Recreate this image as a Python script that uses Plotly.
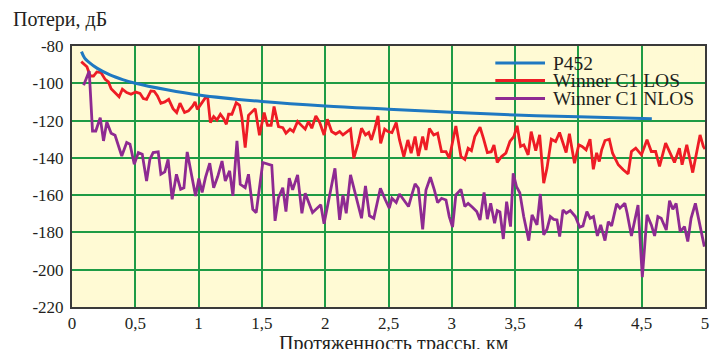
import plotly.graph_objects as go

# ---- data ----
p452_x = [0.075, 0.1, 0.13, 0.2, 0.3, 0.4, 0.5, 0.75, 1.0, 1.5, 2.0, 2.5, 3.0, 3.5, 4.0, 4.58]
p452_y = [-83, -86.5, -88.5, -92, -95.5, -98, -100, -103.5, -106.3, -109.8, -112.2, -113.9, -115.5, -117, -118, -119]

los_x = [0.073, 0.118, 0.144, 0.170, 0.196, 0.230, 0.262, 0.288, 0.309, 0.340, 0.372, 0.398, 0.432, 0.466,
         0.503, 0.537, 0.563, 0.589, 0.623, 0.649, 0.675, 0.702, 0.733, 0.764, 0.798, 0.827, 0.853, 0.889,
         0.920, 0.954, 0.972, 0.990, 1.020, 1.054, 1.072, 1.093, 1.119, 1.145, 1.172, 1.198, 1.219, 1.237,
         1.263, 1.297, 1.324, 1.342, 1.368, 1.394, 1.447, 1.481, 1.518, 1.544, 1.573, 1.596, 1.631, 1.665,
         1.690, 1.722, 1.748, 1.782, 1.808, 1.842, 1.868, 1.894, 1.926, 1.957, 1.991, 2.017, 2.051, 2.083,
         2.114, 2.140, 2.174, 2.200, 2.226, 2.260, 2.287, 2.318, 2.344, 2.365, 2.391, 2.417, 2.438, 2.470,
         2.496, 2.527, 2.561, 2.587, 2.621, 2.653, 2.679, 2.710, 2.736, 2.770, 2.796, 2.823, 2.857, 2.888,
         2.919, 2.954, 2.980, 3.032, 3.072, 3.103, 3.129, 3.155, 3.182, 3.223, 3.250, 3.281, 3.312, 3.333,
         3.359, 3.393, 3.427, 3.459, 3.490, 3.516, 3.543, 3.569, 3.603, 3.627, 3.663, 3.694, 3.726, 3.752,
         3.786, 3.820, 3.851, 3.882, 3.903, 3.929, 3.969, 4.003, 4.029, 4.061, 4.092, 4.118, 4.144, 4.165,
         4.184, 4.210, 4.244, 4.270, 4.315, 4.354, 4.393, 4.419, 4.453, 4.498, 4.542, 4.576, 4.610, 4.641,
         4.689, 4.725, 4.759, 4.798, 4.819, 4.856, 4.903, 4.961, 4.987, 5.0]
los_y = [-88.4, -91.1, -96.1, -96.1, -93.9, -94.3, -97.9, -99.3, -102.9, -105, -107.2, -103.2, -105, -105.9,
         -104.7, -105.4, -108.2, -108.6, -104.1, -104.3, -106.8, -110.7, -110, -108.6, -113.6, -115.7, -110.7, -115.7,
         -114.8, -112.2, -110, -114, -111.3, -107.7, -107.7, -121.1, -117.9, -119.7, -116.6, -119, -122, -116.6,
         -116.6, -110.4, -111.8, -118.4, -134.5, -117.2, -113.6, -127.9, -115.7, -122.5, -122.5, -112.5, -123.2, -123.8,
         -126.8, -124.6, -125.9, -120.5, -122.3, -124.6, -120.5, -124.1, -117.5, -121.1, -127.7, -119.3, -125.9, -127.2,
         -125.9, -127.7, -125.9, -124.6, -140.2, -132.2, -124.1, -127.7, -126.4, -130.4, -124.6, -117.5, -132.2, -124.6,
         -125.9, -126.5, -121.1, -130.4, -139.3, -130.4, -137.5, -128.6, -139, -128.6, -135.8, -124.2, -127.7, -126.8,
         -136.7, -136.7, -140.2, -122.9, -139.3, -140.8, -134.9, -136.1, -128.6, -123.6, -129.5, -137.2, -136.7, -133.1,
         -142.5, -139.3, -137.5, -131.2, -128.6, -122.8, -133.9, -133, -138.4, -125.9, -136.1, -127.7, -153.6, -145.5,
         -130, -131.2, -126.4, -132.1, -137.1, -127.1, -142.9, -133, -133.9, -135.7, -130, -146.1, -137.3, -142,
         -135.7, -130.7, -130, -137.5, -143.7, -146.4, -148.6, -136.6, -134.8, -138.4, -130.3, -136.6, -136.6, -144.6,
         -132.1, -137.5, -142.5, -134.8, -143.7, -133, -147.9, -127.7, -133.9, -135.3]

nlos_x = [0.092, 0.126, 0.136, 0.162, 0.188, 0.223, 0.249, 0.275, 0.309, 0.340, 0.393, 0.432, 0.458, 0.492,
          0.524, 0.555, 0.589, 0.615, 0.641, 0.681, 0.702, 0.733, 0.759, 0.791, 0.825, 0.858, 0.884, 0.910,
          0.942, 0.976, 1.002, 1.028, 1.054, 1.088, 1.119, 1.151, 1.185, 1.211, 1.245, 1.271, 1.303, 1.329,
          1.368, 1.394, 1.428, 1.455, 1.507, 1.578, 1.604, 1.631, 1.665, 1.690, 1.716, 1.743, 1.782, 1.816,
          1.842, 1.900, 1.965, 1.991, 2.077, 2.114, 2.140, 2.166, 2.200, 2.287, 2.318, 2.350, 2.384, 2.436,
          2.475, 2.506, 2.527, 2.561, 2.587, 2.621, 2.658, 2.684, 2.710, 2.736, 2.770, 2.796, 2.831, 2.862,
          2.888, 2.919, 2.954, 2.980, 3.006, 3.032, 3.072, 3.103, 3.129, 3.163, 3.197, 3.223, 3.255, 3.281,
          3.307, 3.338, 3.359, 3.380, 3.407, 3.433, 3.464, 3.485, 3.511, 3.537, 3.568, 3.608, 3.634, 3.673,
          3.699, 3.726, 3.752, 3.778, 3.805, 3.831, 3.852, 3.878, 3.904, 3.936, 3.976, 4.010, 4.036, 4.067,
          4.093, 4.119, 4.150, 4.176, 4.210, 4.236, 4.262, 4.302, 4.328, 4.367, 4.385, 4.419, 4.445, 4.471,
          4.505, 4.542, 4.576, 4.602, 4.628, 4.654, 4.694, 4.720, 4.746, 4.772, 4.804, 4.838, 4.864, 4.890,
          4.924, 4.956, 4.995]
nlos_y = [-101.1, -94.3, -93.4, -125.6, -125.6, -118.4, -130.9, -120.7, -126.8, -127.9, -139, -131.8, -132.7, -143.4,
          -137.2, -138.1, -152.4, -140.8, -137.2, -136.8, -148.8, -147.5, -140.8, -162.2, -148.8, -156.8, -156, -136.8,
          -147.9, -160.4, -151.1, -158.6, -150.6, -142.9, -156, -150, -141.7, -152.4, -147, -160.4, -130.9, -154.2,
          -156, -148.8, -167.6, -169.4, -142.5, -144, -173.8, -161.3, -156, -168.8, -150.9, -157.2, -149.1, -169.7,
          -159, -169.3, -165.2, -175.4, -145.6, -173.3, -159.9, -169.7, -149.1, -172.4, -155, -171.1, -172.4, -156.3,
          -162.5, -167, -161.7, -164, -159.4, -162.6, -166.1, -159.9, -154, -156.3, -178.3, -157.2, -150.4, -157.2,
          -164, -161.7, -162.6, -171.5, -177.2, -159.9, -156.9, -166.1, -164.4, -166.5, -168.8, -173.3, -158.6, -172.9,
          -164.4, -175.1, -168.3, -169, -183.5, -163.5, -176.9, -148.3, -155.4, -158.7, -171.5, -184.4, -170.6, -176,
          -159.4, -181.3, -178.3, -171.5, -173, -173.3, -182.2, -167.9, -169.7, -168.3, -171.5, -177.2, -176.5, -168.8,
          -172.4, -171.5, -181.9, -176, -184.4, -174.2, -176.5, -164.7, -167, -164.4, -169.7, -181.9, -173.3, -165.3,
          -204, -170.6, -176, -181.9, -171.5, -172.4, -178.7, -163, -167.6, -164.4, -179.6, -176.9, -184.9, -172.4,
          -164.4, -175.1, -187.6]

x_tickvals = [0, 0.5, 1, 1.5, 2, 2.5, 3, 3.5, 4, 4.5, 5]
x_ticktext = ["0", "0,5", "1", "1,5", "2", "2,5", "3", "3,5", "4", "4,5", "5"]
y_tickvals = [-80, -100, -120, -140, -160, -180, -200, -220]
y_ticktext = ["-80", "-100", "-120", "-140", "-160", "-180", "-200", "-220"]

series_names = ["P452", "Winner C1 LOS", "Winner C1 NLOS"]
series_colors = ["#1F78C1", "#EE1C25", "#8E2A92"]

FONT = "Liberation Serif, Times New Roman, serif"
TXT = "#231F20"
GRID = "#1E9B45"
BG = "#FFFAD4"

fig = go.Figure()
fig.add_trace(go.Scatter(x=los_x, y=los_y, mode="lines", line=dict(color=series_colors[1], width=2.8)))
fig.add_trace(go.Scatter(x=nlos_x, y=nlos_y, mode="lines", line=dict(color=series_colors[2], width=2.8)))
fig.add_trace(go.Scatter(x=p452_x, y=p452_y, mode="lines", line=dict(color=series_colors[0], width=3, shape="spline", smoothing=1.0)))

W, H = 715, 349
L, R, T, B = 72, 6, 46, 42
pw, ph = W - L - R, H - T - B

def px(X):
    return (X - L) / pw

def py(Y):
    return (H - B - Y) / ph

shapes = [dict(type="rect", xref="paper", yref="paper", x0=px(487), x1=px(698), y0=py(108), y1=py(50),
               fillcolor=BG, line=dict(width=0), layer="between")]
annotations = []
leg_y = [63, 80.5, 98.5]
for name, col, yy in zip(series_names, series_colors, leg_y):
    shapes.append(dict(type="line", xref="paper", yref="paper", x0=px(498), x1=px(548), y0=py(yy), y1=py(yy),
                       line=dict(color=col, width=3), layer="above"))
    annotations.append(dict(text=name, xref="paper", yref="paper", x=px(554), y=py(yy), xanchor="left",
                            yanchor="middle", showarrow=False, font=dict(family=FONT, size=19.5, color=TXT)))

annotations.append(dict(text="Потери, дБ", xref="paper", yref="paper", x=px(11), y=py(6), xanchor="left",
                        yanchor="top", showarrow=False, font=dict(family=FONT, size=20, color=TXT)))
annotations.append(dict(text="Протяженность трассы, км", xref="paper", yref="paper", x=px(396), y=py(330),
                        xanchor="center", yanchor="top", showarrow=False, font=dict(family=FONT, size=20, color=TXT)))

fig.update_layout(
    width=W, height=H, autosize=False,
    margin=dict(l=L, r=R, t=T, b=B),
    paper_bgcolor="white", plot_bgcolor=BG,
    showlegend=False,
    shapes=shapes, annotations=annotations,
    font=dict(family=FONT, size=17, color=TXT),
)
fig.update_xaxes(range=[0, 5], tickvals=x_tickvals, ticktext=x_ticktext, showgrid=True, gridcolor=GRID,
                 gridwidth=1.6, zeroline=False, showline=True, linecolor="#3A3A3A", linewidth=2, mirror=True,
                 ticks="", ticklabelstandoff=0, tickfont=dict(family=FONT, size=17, color=TXT))
fig.update_yaxes(range=[-220, -80], tickvals=y_tickvals, ticktext=y_ticktext, showgrid=True, gridcolor=GRID,
                 gridwidth=1.6, zeroline=False, showline=True, linecolor="#3A3A3A", linewidth=2, mirror=True,
                 ticks="", ticklabelstandoff=3, tickfont=dict(family=FONT, size=17, color=TXT))

fig.write_html("out.html", config={"displayModeBar": False},
               post_script="document.body.style.margin='0';document.body.style.overflow='hidden';")
